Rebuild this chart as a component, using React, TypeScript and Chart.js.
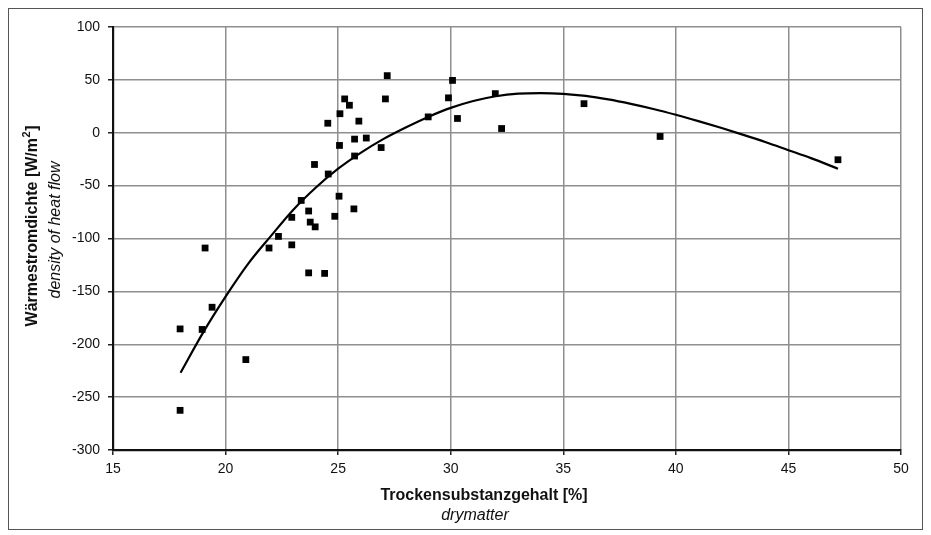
import React, { useEffect, useRef } from "react";
import { Chart, registerables } from "chart.js";

Chart.register(...registerables);

// Measured points: drymatter [%] vs heat flow density [W/m²]
const pointX = [
  17.98, 17.98, 18.96, 19.09, 19.4, 20.9, 21.93, 22.35, 22.94, 22.94,
  23.36, 23.69, 23.69, 23.76, 23.95, 23.98, 24.4, 24.54, 24.56, 24.85,
  25.04, 25.06, 25.08, 25.29, 25.5, 25.7, 25.73, 25.73, 25.92, 26.25,
  26.91, 27.1, 27.18, 29.0, 29.9, 30.08, 30.3, 31.98, 32.26, 35.92,
  39.3, 47.2,
];
const pointY = [
  -262.5, -185.5, -186, -109, -165, -214.5, -109, -98, -106, -80,
  -64, -74, -132.5, -84.5, -30, -89, -133, 9, -39, -79,
  -60, -12, 18, 32, 26, -72, -6, -22, 11, -5,
  -14, 32, 54, 15, 33, 49.5, 13.5, 37, 4, 27.5,
  -3.5, -25.5,
];

// Trend line
const trendX = [
  18, 19, 20, 21, 22, 23, 24, 25, 26, 27, 28, 29, 30, 31, 32, 33, 34, 35,
  36, 37, 38, 39, 40, 41, 42, 43, 44, 45, 46, 47.2,
];
const trendY = [
  -227, -189, -155, -124, -98, -73, -52, -34, -19, -6, 5, 15, 23.5, 30, 34.5,
  37, 37.5, 36.8, 34.8, 31.5, 27.3, 22.5, 17, 11, 4.7, -2, -9, -16.5, -24, -34,
];

const xMin = 15;
const xMax = 50;
const xStep = 5;
const yMin = -300;
const yMax = 100;
const yStep = 50;

const xTitle = "Trockensubstanzgehalt [%]";
const xSubtitle = "drymatter";
const yTitleMain = "Wärmestromdichte [W/m";
const yTitleSup = "2";
const yTitleEnd = "]";
const ySubtitle = "density of heat flow";

const FONT = '"Liberation Sans", Arial, sans-serif';

const titlePlugin = {
  id: "customTitles",
  afterDraw(chart: any) {
    const ctx = chart.ctx as CanvasRenderingContext2D;
    const ca = chart.chartArea;
    ctx.save();
    ctx.fillStyle = "#111";
    ctx.textBaseline = "middle";
    ctx.textAlign = "center";
    ctx.font = `bold 16px ${FONT}`;
    ctx.fillText(xTitle, ca.left + 371, ca.bottom + 46);
    ctx.font = `italic 16px ${FONT}`;
    ctx.fillText(xSubtitle, ca.left + 362, ca.bottom + 66);

    // y titles, rotated
    ctx.save();
    ctx.translate(ca.left - 80, ca.top + 199);
    ctx.rotate(-Math.PI / 2);
    ctx.textAlign = "left";
    ctx.font = `bold 16px ${FONT}`;
    const w1 = ctx.measureText(yTitleMain).width;
    const w3 = ctx.measureText(yTitleEnd).width;
    ctx.font = `bold 11px ${FONT}`;
    const w2 = ctx.measureText(yTitleSup).width + 1;
    const total = w1 + w2 + w3;
    let x0 = -total / 2;
    ctx.font = `bold 16px ${FONT}`;
    ctx.fillText(yTitleMain, x0, 0);
    ctx.font = `bold 11px ${FONT}`;
    ctx.fillText(yTitleSup, x0 + w1 + 0.5, -6);
    ctx.font = `bold 16px ${FONT}`;
    ctx.fillText(yTitleEnd, x0 + w1 + w2, 0);
    ctx.restore();

    ctx.save();
    ctx.translate(ca.left - 57, ca.top + 203);
    ctx.rotate(-Math.PI / 2);
    ctx.textAlign = "center";
    ctx.font = `italic 16px ${FONT}`;
    ctx.fillText(ySubtitle, 0, 0);
    ctx.restore();

    ctx.restore();
  },
};

export default function App() {
  const ref = useRef<HTMLCanvasElement | null>(null);

  useEffect(() => {
    if (!ref.current) return;
    const points = pointX.map((x, i) => ({ x, y: pointY[i] }));
    const trend = trendX.map((x, i) => ({ x, y: trendY[i] }));
    const chart = new Chart(ref.current, {
      type: "scatter",
      data: {
        datasets: [
          {
            type: "line",
            data: trend,
            borderColor: "#000",
            borderWidth: 2.2,
            pointRadius: 0,
            showLine: true,
            cubicInterpolationMode: "monotone",
            fill: false,
            order: 2,
          } as any,
          {
            type: "scatter",
            data: points,
            backgroundColor: "#000",
            borderColor: "#000",
            borderWidth: 0,
            pointStyle: "rect",
            pointRadius: 4.8,
            order: 1,
          },
        ],
      },
      options: {
        animation: false,
        responsive: false,
        maintainAspectRatio: false,
        layout: { padding: { left: 0, right: 21, top: 18, bottom: 0 } },
        plugins: {
          legend: { display: false },
          tooltip: { enabled: false },
          title: { display: false },
        },
        scales: {
          x: {
            type: "linear",
            min: xMin,
            max: xMax,
            ticks: {
              stepSize: xStep,
              color: "#111",
              font: { family: FONT, size: 14 },
              padding: 6,
              maxRotation: 0,
            },
            grid: {
              color: "#8f8f8f",
              lineWidth: 1.5,
              tickColor: "#222",
              tickLength: 5,
              drawTicks: true,
            },
            border: { color: "#111", width: 2.2 },
            afterFit: (scale: any) => {
              scale.height = 79;
            },
          },
          y: {
            type: "linear",
            min: yMin,
            max: yMax,
            ticks: {
              stepSize: yStep,
              color: "#111",
              font: { family: FONT, size: 14 },
              padding: 8,
            },
            grid: {
              color: "#8f8f8f",
              lineWidth: 1.5,
              tickColor: "#222",
              tickLength: 5,
              drawTicks: true,
            },
            border: { color: "#111", width: 2.2 },
            afterFit: (scale: any) => {
              scale.width = 104;
            },
          },
        },
      },
      plugins: [titlePlugin],
    });
    return () => chart.destroy();
  }, []);

  return (
    <div
      style={{
        width: 913,
        height: 520,
        border: "1px solid #555",
        background: "#fff",
      }}
    >
      <canvas ref={ref} width={913} height={520} style={{ display: "block" }} />
    </div>
  );
}
